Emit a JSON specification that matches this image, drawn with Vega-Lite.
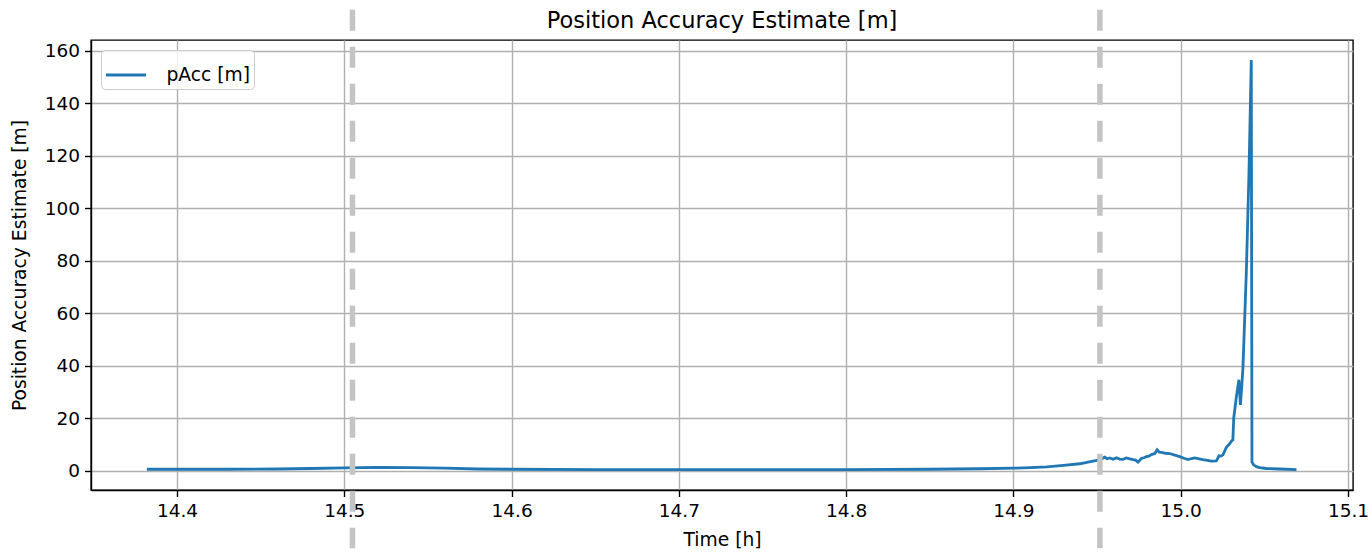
{
  "$schema": "https://vega.github.io/schema/vega-lite/v6.json",
  "width": 1262,
  "height": 450,
  "autosize": "none",
  "padding": {"left": 91, "top": 40, "right": 18, "bottom": 63},
  "background": "white",
  "title": {
    "text": "Position Accuracy Estimate [m]",
    "font": "DejaVu Sans",
    "fontSize": 22.5,
    "fontWeight": "normal",
    "color": "#000000",
    "anchor": "middle",
    "baseline": "alphabetic",
    "offset": -43
  },
  "config": {
    "font": "DejaVu Sans",
    "view": {"stroke": "#000000", "strokeWidth": 1.4},
    "axis": {
      "labelFont": "DejaVu Sans",
      "titleFont": "DejaVu Sans",
      "labelFontSize": 18.5,
      "titleFontSize": 18.7,
      "titleFontWeight": "normal",
      "labelColor": "#000000",
      "titleColor": "#000000",
      "gridColor": "#b0b0b0",
      "gridWidth": 1.4,
      "gridOpacity": 1,
      "domainColor": "#000000",
      "domainWidth": 1.4,
      "tickColor": "#000000",
      "tickSize": 6.5,
      "tickWidth": 1.4,
      "labelPadding": 5
    },
    "legend": {
      "labelFont": "DejaVu Sans",
      "labelFontSize": 18.7,
      "labelColor": "#000000"
    }
  },
  "datasets": {
    "pacc": [
      {"t": 14.382, "v": 0.5, "s": "pAcc [m]"},
      {"t": 14.40, "v": 0.5, "s": "pAcc [m]"},
      {"t": 14.43, "v": 0.5, "s": "pAcc [m]"},
      {"t": 14.46, "v": 0.6, "s": "pAcc [m]"},
      {"t": 14.48, "v": 0.8, "s": "pAcc [m]"},
      {"t": 14.50, "v": 1.0, "s": "pAcc [m]"},
      {"t": 14.52, "v": 1.2, "s": "pAcc [m]"},
      {"t": 14.54, "v": 1.1, "s": "pAcc [m]"},
      {"t": 14.56, "v": 0.9, "s": "pAcc [m]"},
      {"t": 14.58, "v": 0.6, "s": "pAcc [m]"},
      {"t": 14.60, "v": 0.5, "s": "pAcc [m]"},
      {"t": 14.65, "v": 0.4, "s": "pAcc [m]"},
      {"t": 14.70, "v": 0.4, "s": "pAcc [m]"},
      {"t": 14.75, "v": 0.4, "s": "pAcc [m]"},
      {"t": 14.80, "v": 0.4, "s": "pAcc [m]"},
      {"t": 14.85, "v": 0.5, "s": "pAcc [m]"},
      {"t": 14.88, "v": 0.7, "s": "pAcc [m]"},
      {"t": 14.90, "v": 0.9, "s": "pAcc [m]"},
      {"t": 14.91, "v": 1.1, "s": "pAcc [m]"},
      {"t": 14.92, "v": 1.4, "s": "pAcc [m]"},
      {"t": 14.93, "v": 2.0, "s": "pAcc [m]"},
      {"t": 14.9396, "v": 2.6, "s": "pAcc [m]"},
      {"t": 14.946, "v": 3.4, "s": "pAcc [m]"},
      {"t": 14.9516, "v": 4.1, "s": "pAcc [m]"},
      {"t": 14.9546, "v": 5.1, "s": "pAcc [m]"},
      {"t": 14.9560, "v": 4.5, "s": "pAcc [m]"},
      {"t": 14.9576, "v": 4.8, "s": "pAcc [m]"},
      {"t": 14.9596, "v": 4.3, "s": "pAcc [m]"},
      {"t": 14.9616, "v": 4.9, "s": "pAcc [m]"},
      {"t": 14.9635, "v": 4.4, "s": "pAcc [m]"},
      {"t": 14.9655, "v": 4.3, "s": "pAcc [m]"},
      {"t": 14.9675, "v": 4.8, "s": "pAcc [m]"},
      {"t": 14.9695, "v": 4.5, "s": "pAcc [m]"},
      {"t": 14.9715, "v": 4.2, "s": "pAcc [m]"},
      {"t": 14.9730, "v": 4.0, "s": "pAcc [m]"},
      {"t": 14.9745, "v": 3.2, "s": "pAcc [m]"},
      {"t": 14.9765, "v": 4.6, "s": "pAcc [m]"},
      {"t": 14.9780, "v": 4.9, "s": "pAcc [m]"},
      {"t": 14.9795, "v": 5.3, "s": "pAcc [m]"},
      {"t": 14.9810, "v": 5.5, "s": "pAcc [m]"},
      {"t": 14.9825, "v": 6.1, "s": "pAcc [m]"},
      {"t": 14.9845, "v": 6.5, "s": "pAcc [m]"},
      {"t": 14.9859, "v": 7.9, "s": "pAcc [m]"},
      {"t": 14.9872, "v": 7.0, "s": "pAcc [m]"},
      {"t": 14.9885, "v": 6.9, "s": "pAcc [m]"},
      {"t": 14.9910, "v": 6.6, "s": "pAcc [m]"},
      {"t": 14.9934, "v": 6.5, "s": "pAcc [m]"},
      {"t": 14.9965, "v": 5.9, "s": "pAcc [m]"},
      {"t": 14.9994, "v": 5.3, "s": "pAcc [m]"},
      {"t": 15.0020, "v": 4.7, "s": "pAcc [m]"},
      {"t": 15.0044, "v": 4.2, "s": "pAcc [m]"},
      {"t": 15.0064, "v": 4.6, "s": "pAcc [m]"},
      {"t": 15.0084, "v": 4.8, "s": "pAcc [m]"},
      {"t": 15.0110, "v": 4.5, "s": "pAcc [m]"},
      {"t": 15.0133, "v": 4.2, "s": "pAcc [m]"},
      {"t": 15.0160, "v": 3.9, "s": "pAcc [m]"},
      {"t": 15.0183, "v": 3.6, "s": "pAcc [m]"},
      {"t": 15.0213, "v": 3.7, "s": "pAcc [m]"},
      {"t": 15.0229, "v": 5.6, "s": "pAcc [m]"},
      {"t": 15.0240, "v": 5.5, "s": "pAcc [m]"},
      {"t": 15.0253, "v": 6.0, "s": "pAcc [m]"},
      {"t": 15.0273, "v": 8.9, "s": "pAcc [m]"},
      {"t": 15.0290, "v": 10.0, "s": "pAcc [m]"},
      {"t": 15.0303, "v": 11.2, "s": "pAcc [m]"},
      {"t": 15.0312, "v": 11.7, "s": "pAcc [m]"},
      {"t": 15.0317, "v": 20.0, "s": "pAcc [m]"},
      {"t": 15.0333, "v": 28.2, "s": "pAcc [m]"},
      {"t": 15.0348, "v": 34.6, "s": "pAcc [m]"},
      {"t": 15.0357, "v": 25.0, "s": "pAcc [m]"},
      {"t": 15.0365, "v": 32.0, "s": "pAcc [m]"},
      {"t": 15.0372, "v": 39.0, "s": "pAcc [m]"},
      {"t": 15.0392, "v": 75.0, "s": "pAcc [m]"},
      {"t": 15.0408, "v": 113.0, "s": "pAcc [m]"},
      {"t": 15.0422, "v": 156.5, "s": "pAcc [m]"},
      {"t": 15.0426, "v": 3.2, "s": "pAcc [m]"},
      {"t": 15.0436, "v": 2.2, "s": "pAcc [m]"},
      {"t": 15.0452, "v": 1.5, "s": "pAcc [m]"},
      {"t": 15.0472, "v": 1.1, "s": "pAcc [m]"},
      {"t": 15.0512, "v": 0.8, "s": "pAcc [m]"},
      {"t": 15.0592, "v": 0.6, "s": "pAcc [m]"},
      {"t": 15.0692, "v": 0.4, "s": "pAcc [m]"}
    ],
    "marks": [
      {"t": 14.5049, "top": 175.6, "bottom": -29.6},
      {"t": 14.9517, "top": 175.6, "bottom": -29.6}
    ]
  },
  "layer": [
    {
      "data": {"name": "pacc"},
      "mark": {"type": "line", "strokeWidth": 2.8, "clip": false},
      "encoding": {
        "x": {
          "field": "t",
          "type": "quantitative",
          "scale": {"domain": [14.3486, 15.103], "nice": false, "zero": false},
          "axis": {
            "title": "Time [h]",
            "values": [14.4, 14.5, 14.6, 14.7, 14.8, 14.9, 15.0, 15.1],
            "format": ".1f",
            "titlePadding": 10
          }
        },
        "y": {
          "field": "v",
          "type": "quantitative",
          "scale": {"domain": [-7.4, 164.1], "nice": false, "zero": false},
          "axis": {
            "title": "Position Accuracy Estimate [m]",
            "values": [0, 20, 40, 60, 80, 100, 120, 140, 160],
            "titlePadding": 15
          }
        },
        "color": {
          "field": "s",
          "type": "nominal",
          "scale": {"range": ["#1f77b4"]},
          "legend": {
            "title": null,
            "orient": "top-left",
            "offset": 10,
            "symbolType": "stroke",
            "symbolSize": 1600,
            "symbolStrokeWidth": 2.8,
            "labelOffset": 19,
            "padding": 3.5,
            "fillColor": "rgba(255,255,255,0.8)",
            "strokeColor": "#cccccc",
            "cornerRadius": 4
          }
        }
      }
    },
    {
      "data": {"name": "marks"},
      "mark": {"type": "rule", "color": "#c4c4c4", "strokeWidth": 5.5, "strokeDash": [21, 16], "clip": false},
      "encoding": {
        "x": {"field": "t", "type": "quantitative"},
        "y": {"field": "top", "type": "quantitative"},
        "y2": {"field": "bottom"}
      }
    }
  ]
}
